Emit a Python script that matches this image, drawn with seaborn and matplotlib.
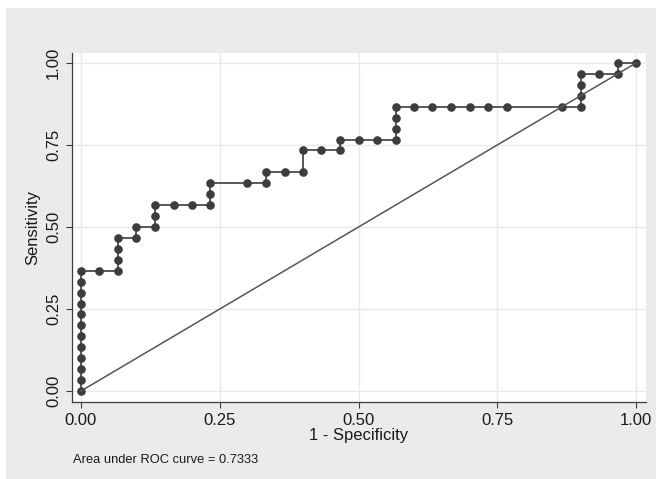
import matplotlib
matplotlib.use("Agg")
import matplotlib.pyplot as plt
import seaborn as sns
import pandas as pd
from matplotlib.patches import Rectangle

# ROC curve points (1 - specificity, sensitivity)
fpr = [0.0000, 0.0000, 0.0000, 0.0000, 0.0000, 0.0000, 0.0000, 0.0000, 0.0000, 0.0000, 0.0000, 0.0000,
       0.0333, 0.0667,
       0.0667, 0.0667, 0.0667,
       0.1000, 0.1000,
       0.1333, 0.1333, 0.1333,
       0.1667, 0.2000, 0.2333, 0.2333, 0.2333,
       0.3000, 0.3333, 0.3333,
       0.3667, 0.4000, 0.4000,
       0.4333, 0.4667, 0.4667,
       0.5000, 0.5333, 0.5667, 0.5667, 0.5667, 0.5667,
       0.6000, 0.6333, 0.6667, 0.7000, 0.7333, 0.7667,
       0.8667, 0.9000, 0.9000, 0.9000, 0.9000,
       0.9333, 0.9667, 0.9667, 1.0000]
tpr = [0.0000, 0.0333, 0.0667, 0.1000, 0.1333, 0.1667, 0.2000, 0.2333, 0.2667, 0.3000, 0.3333, 0.3667,
       0.3667, 0.3667,
       0.4000, 0.4333, 0.4667,
       0.4667, 0.5000,
       0.5000, 0.5333, 0.5667,
       0.5667, 0.5667, 0.5667, 0.6000, 0.6333,
       0.6333, 0.6333, 0.6667,
       0.6667, 0.6667, 0.7333,
       0.7333, 0.7333, 0.7667,
       0.7667, 0.7667, 0.7667, 0.8000, 0.8333, 0.8667,
       0.8667, 0.8667, 0.8667, 0.8667, 0.8667, 0.8667,
       0.8667, 0.8667, 0.9000, 0.9333, 0.9667,
       0.9667, 0.9667, 1.0000, 1.0000]
ref_x = [0.0, 1.0]
ref_y = [0.0, 1.0]
tick_vals = [0.00, 0.25, 0.50, 0.75, 1.00]
tick_labels = ["0.00", "0.25", "0.50", "0.75", "1.00"]
auc_text = "Area under ROC curve = 0.7333"

sns.set_style("white")
plt.rcParams["font.family"] = ["Liberation Sans", "DejaVu Sans"]

roc = pd.DataFrame({"fpr": fpr, "tpr": tpr})
ref = pd.DataFrame({"x": ref_x, "y": ref_y})

fig = plt.figure(figsize=(6.56, 4.79), dpi=100, facecolor="white")
bg = Rectangle((6 / 656, 0), 650 / 656, 471 / 479, transform=fig.transFigure,
               facecolor="#ebebeb", edgecolor="none", zorder=-10)
fig.add_artist(bg)
ax = fig.add_axes([72 / 656, 1 - 402 / 479, 574 / 656, 349 / 479])
ax.set_zorder(1)
ax.set_facecolor("white")

grid_c = "#e9e9e9"
for v in tick_vals:
    ax.axhline(v, color=grid_c, lw=1.0, zorder=0.5)
    ax.axvline(v, color=grid_c, lw=1.0, zorder=0.5)

dark = "#3d3d3d"
sns.lineplot(data=roc, x="fpr", y="tpr", sort=False, estimator=None, ax=ax,
             color=dark, lw=1.2, marker="o", markersize=6.2, markeredgewidth=0,
             markerfacecolor=dark, zorder=3)
sns.lineplot(data=ref, x="x", y="y", sort=False, estimator=None, ax=ax,
             color="#555555", lw=1.1, zorder=4)

ax.set_xlim(-0.0162, 1.018)
ax.set_ylim(-0.0335, 1.0305)
ax.set_xticks(tick_vals)
ax.set_xticklabels(tick_labels)
ax.set_yticks(tick_vals)
ax.set_yticklabels(tick_labels, rotation=90, va="center")

for s in ["top", "right"]:
    ax.spines[s].set_visible(False)
for s in ["left", "bottom"]:
    ax.spines[s].set_color(dark)
    ax.spines[s].set_linewidth(0.9)

ax.tick_params(axis="both", direction="out", length=4, width=0.8, color=dark,
               labelsize=12, labelcolor="#1a1a1a", pad=4)
ax.tick_params(axis="both", which="both", bottom=True, left=True)
ax.set_xlabel("1 - Specificity", fontsize=12, color="#1a1a1a", labelpad=0)
ax.set_ylabel("Sensitivity", fontsize=12, color="#1a1a1a", labelpad=4)

fig.text(73 / 656, 1 - 463 / 479, auc_text, fontsize=9.3, color="#1a1a1a",
         ha="left", va="baseline")

fig.savefig("out.png", dpi=100, facecolor=fig.get_facecolor())
